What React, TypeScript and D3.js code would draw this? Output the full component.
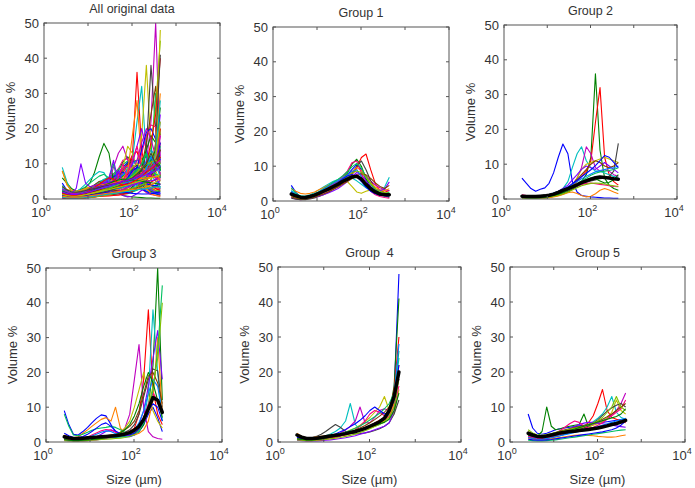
import * as d3 from 'd3';
import { useEffect, useRef } from 'react';

// particle size bins (µm)
const sizes = [2.6, 3.3, 4.2, 5.4, 6.9, 8.8, 11, 14, 18, 23, 30, 38, 49, 62, 80, 102, 130, 166, 212, 270, 345, 440];

const group1Curves = [
  [4.5, 2.5, 1.2, 0.8, 1.0, 1.5, 2.0, 2.8, 3.5, 4.3, 5.2, 6.2, 7.5, 9.0, 10.5, 9.0, 6.0, 3.5, 2.2, 1.6, 1.5, 1.8],
  [2.0, 1.6, 1.3, 1.2, 1.5, 2.0, 2.6, 3.3, 4.0, 4.8, 5.6, 6.6, 8.0, 10.5, 12.0, 10.0, 6.5, 4.0, 2.8, 2.2, 2.0, 2.2],
  [1.5, 1.0, 0.8, 0.8, 1.0, 1.3, 1.8, 2.4, 3.0, 3.6, 4.3, 5.0, 6.0, 7.5, 9.5, 12.5, 13.5, 9.0, 5.0, 3.0, 2.5, 3.0],
  [3.0, 2.0, 1.5, 1.4, 1.8, 2.4, 3.2, 4.0, 4.8, 5.6, 6.2, 6.8, 7.0, 6.6, 5.8, 4.8, 3.8, 3.0, 2.6, 2.6, 4.0, 6.8],
  [1.0, 0.6, 0.4, 0.5, 0.8, 1.2, 1.7, 2.3, 3.0, 3.8, 4.6, 5.4, 6.2, 7.0, 7.6, 8.0, 7.2, 5.8, 4.6, 3.8, 3.2, 3.0],
  [2.5, 1.5, 1.0, 1.0, 1.3, 1.8, 2.5, 3.3, 4.2, 5.0, 5.7, 6.0, 5.6, 4.2, 2.6, 2.2, 2.8, 3.2, 2.8, 2.2, 1.6, 1.2],
  [0.8, 0.5, 0.4, 0.4, 0.6, 0.9, 1.3, 1.8, 2.5, 3.3, 4.2, 5.2, 6.4, 8.0, 10.0, 11.5, 9.0, 5.8, 3.5, 2.2, 1.5, 1.0],
  [3.5, 2.8, 2.2, 2.0, 2.2, 2.6, 3.2, 3.8, 4.5, 5.2, 5.8, 6.4, 7.2, 8.4, 9.6, 8.8, 7.0, 5.2, 4.0, 3.2, 3.0, 3.5],
  [1.8, 1.2, 0.9, 0.8, 0.9, 1.1, 1.4, 1.8, 2.3, 2.9, 3.6, 4.5, 5.6, 7.0, 8.2, 7.6, 5.8, 4.2, 3.4, 3.0, 3.4, 5.5],
  [2.2, 1.4, 1.0, 0.9, 1.1, 1.5, 2.1, 2.9, 3.8, 4.8, 5.8, 7.0, 8.6, 11.0, 11.5, 8.0, 4.6, 2.8, 1.8, 1.3, 1.0, 0.8],
  [3.8, 2.2, 1.4, 1.2, 1.5, 2.0, 2.7, 3.5, 4.4, 5.3, 6.2, 7.2, 8.4, 9.8, 10.8, 9.5, 7.0, 4.8, 3.2, 2.4, 2.0, 2.6],
  [1.2, 0.8, 0.6, 0.6, 0.8, 1.1, 1.5, 2.0, 2.6, 3.3, 4.0, 4.8, 5.6, 6.4, 7.2, 7.8, 7.5, 6.5, 5.2, 4.2, 3.6, 4.5],
  [2.8, 1.8, 1.2, 1.1, 1.4, 1.9, 2.6, 3.4, 4.2, 5.0, 5.8, 6.5, 7.4, 8.5, 9.0, 7.0, 4.5, 3.0, 2.2, 1.8, 1.6, 1.5],
  [1.6, 1.1, 0.8, 0.8, 1.0, 1.4, 1.9, 2.5, 3.2, 4.0, 4.9, 5.9, 7.0, 8.0, 8.6, 8.2, 6.8, 5.0, 3.6, 2.8, 2.4, 2.2],
  [2.4, 1.7, 1.3, 1.2, 1.4, 1.8, 2.3, 2.9, 3.6, 4.4, 5.3, 6.3, 7.2, 7.6, 7.0, 5.6, 4.0, 2.8, 2.1, 1.7, 1.5, 1.4],
];
const group1Mean = [2.0, 1.5, 1.1, 1.0, 1.3, 1.7, 2.2, 2.8, 3.4, 4.1, 4.8, 5.6, 6.3, 6.9, 7.1, 6.3, 4.8, 3.5, 2.6, 2.0, 1.8, 1.8];

const group2Curves = [
  [6.0, 4.5, 3.0, 2.2, 2.8, 3.2, 4.5, 7.5, 12.0, 15.8, 13.0, 5.0, 2.0, 1.0, 0.8, 0.6, 0.5, 0.4, 0.3, 0.3, 0.2, 0.2],
  [0.5, 0.4, 0.3, 0.3, 0.3, 0.4, 0.5, 0.7, 1.0, 1.4, 2.0, 2.8, 3.8, 5.0, 7.0, 12.0, 36.0, 14.0, 6.0, 4.0, 3.0, 2.5],
  [0.6, 0.5, 0.4, 0.4, 0.5, 0.6, 0.8, 1.1, 1.5, 2.0, 2.8, 3.8, 5.0, 6.5, 8.0, 11.0, 22.0, 32.0, 12.0, 7.0, 5.0, 4.0],
  [0.8, 0.6, 0.5, 0.5, 0.6, 0.8, 1.0, 1.4, 2.0, 3.0, 5.0, 9.0, 13.0, 15.0, 11.0, 9.0, 8.0, 8.0, 7.5, 7.0, 6.5, 6.0],
  [0.5, 0.4, 0.3, 0.3, 0.4, 0.5, 0.7, 1.0, 1.4, 2.0, 2.8, 4.0, 6.0, 9.0, 15.0, 13.0, 9.0, 8.0, 8.5, 8.0, 7.0, 6.5],
  [1.0, 0.8, 0.6, 0.6, 0.7, 0.8, 1.0, 1.2, 1.5, 2.0, 2.8, 4.0, 6.0, 8.5, 10.0, 10.5, 11.0, 11.5, 12.0, 11.5, 11.0, 10.5],
  [0.7, 0.5, 0.4, 0.4, 0.5, 0.6, 0.8, 1.0, 1.3, 1.7, 2.2, 2.8, 3.5, 4.2, 4.8, 5.2, 5.5, 5.8, 6.0, 6.5, 8.0, 16.0],
  [0.3, 0.2, 0.2, 0.2, 0.2, 0.3, 0.4, 0.6, 0.9, 1.3, 1.8, 2.0, 1.6, 1.0, 0.6, 0.8, 1.5, 2.5, 3.0, 2.6, 2.0, 1.5],
  [0.9, 0.7, 0.6, 0.6, 0.7, 0.9, 1.2, 1.6, 2.2, 3.0, 4.0, 5.5, 7.0, 8.5, 9.5, 9.0, 8.5, 9.5, 10.5, 9.5, 8.5, 7.5],
  [1.2, 1.0, 0.8, 0.8, 0.9, 1.0, 1.2, 1.5, 1.8, 2.3, 2.8, 3.3, 3.8, 4.2, 4.5, 4.6, 4.4, 4.2, 4.0, 3.8, 3.6, 3.5],
  [0.4, 0.3, 0.3, 0.3, 0.4, 0.5, 0.7, 1.0, 1.4, 2.0, 2.8, 3.6, 4.4, 5.2, 6.0, 6.8, 7.4, 7.8, 8.0, 8.2, 8.5, 9.0],
  [0.6, 0.5, 0.4, 0.4, 0.5, 0.6, 0.8, 1.1, 1.6, 2.3, 3.2, 4.3, 5.6, 7.0, 8.5, 10.0, 11.0, 10.5, 9.5, 9.0, 9.5, 10.5],
  [1.0, 0.8, 0.7, 0.7, 0.8, 1.0, 1.3, 1.7, 2.2, 2.8, 3.5, 4.2, 5.0, 5.8, 6.5, 7.2, 7.8, 8.2, 8.5, 8.8, 9.0, 9.5],
  [0.3, 0.3, 0.2, 0.2, 0.3, 0.4, 0.6, 0.8, 1.1, 1.5, 2.0, 2.6, 3.2, 3.8, 4.2, 4.5, 4.6, 4.5, 4.3, 4.0, 3.8, 3.6],
  [0.8, 0.6, 0.5, 0.5, 0.6, 0.8, 1.1, 1.5, 2.0, 2.6, 3.4, 4.4, 5.4, 6.4, 7.4, 8.4, 9.6, 11.0, 12.5, 12.0, 10.5, 9.0],
  [0.5, 0.4, 0.3, 0.3, 0.4, 0.5, 0.7, 1.0, 1.4, 1.9, 2.5, 3.2, 4.0, 4.8, 5.6, 6.0, 5.8, 5.2, 4.6, 4.8, 5.5, 7.0],
];
const group2Mean = [0.8, 0.7, 0.7, 0.7, 0.8, 0.9, 1.1, 1.4, 1.9, 2.5, 3.0, 3.5, 4.1, 4.7, 5.2, 5.7, 6.1, 6.3, 6.2, 6.0, 5.8, 5.7];

const group3Curves = [
  [9.0, 5.0, 2.2, 2.0, 3.0, 4.2, 5.5, 6.8, 7.8, 7.5, 5.0, 3.0, 2.0, 1.5, 1.5, 2.0, 3.0, 5.0, 8.0, 10.0, 7.0, 3.0],
  [1.0, 0.8, 0.6, 0.6, 0.7, 0.8, 0.9, 1.0, 1.1, 1.2, 1.3, 1.4, 1.5, 1.6, 1.8, 2.2, 3.0, 5.0, 10.0, 22.0, 50.0, 12.0],
  [1.5, 1.0, 0.8, 0.8, 0.9, 1.0, 1.2, 1.4, 1.6, 1.8, 2.0, 2.2, 2.4, 2.6, 3.0, 4.0, 8.0, 18.0, 38.0, 15.0, 8.0, 5.0],
  [0.8, 0.6, 0.5, 0.5, 0.6, 0.7, 0.8, 0.9, 1.0, 1.1, 1.2, 1.3, 1.4, 1.5, 1.7, 2.0, 3.0, 6.0, 14.0, 38.0, 20.0, 6.0],
  [0.5, 0.4, 0.3, 0.3, 0.3, 0.4, 0.5, 0.6, 0.8, 1.0, 1.3, 1.8, 2.5, 4.0, 8.0, 18.0, 28.0, 10.0, 3.0, 1.5, 1.0, 0.8],
  [0.7, 0.5, 0.4, 0.4, 0.5, 0.6, 0.7, 0.8, 1.0, 1.2, 1.5, 2.0, 2.8, 4.0, 6.0, 10.0, 15.0, 20.0, 14.0, 9.0, 6.0, 4.0],
  [1.2, 0.9, 0.7, 0.7, 0.8, 0.9, 1.0, 1.1, 1.2, 1.4, 1.6, 1.9, 2.3, 2.8, 3.5, 5.0, 8.0, 13.0, 18.0, 21.0, 20.5, 10.0],
  [2.0, 1.5, 1.2, 1.5, 2.5, 3.5, 4.5, 5.5, 6.5, 7.0, 6.0, 10.0, 4.0, 2.5, 2.0, 2.0, 2.5, 3.5, 6.0, 12.0, 30.0, 8.0],
  [0.6, 0.5, 0.4, 0.4, 0.5, 0.7, 1.0, 1.5, 2.2, 3.0, 3.5, 3.0, 2.2, 1.8, 2.0, 3.0, 5.0, 9.0, 16.0, 24.0, 32.0, 18.0],
  [1.8, 1.2, 0.8, 0.8, 1.0, 1.4, 2.0, 2.6, 3.2, 3.6, 3.4, 2.8, 2.2, 2.0, 2.2, 3.0, 4.5, 7.0, 11.0, 14.0, 12.0, 9.0],
  [8.0, 4.5, 2.0, 1.8, 2.2, 2.8, 3.4, 3.8, 4.0, 4.2, 4.5, 4.2, 3.5, 2.8, 2.4, 2.6, 3.5, 5.5, 9.0, 15.0, 26.0, 45.0],
  [0.9, 0.7, 0.5, 0.5, 0.6, 0.7, 0.9, 1.1, 1.3, 1.6, 1.9, 2.3, 2.8, 3.5, 4.5, 6.0, 9.0, 14.0, 19.0, 20.0, 17.0, 11.0],
  [1.4, 1.0, 0.8, 0.8, 1.0, 1.3, 1.7, 2.2, 2.8, 3.2, 3.0, 2.4, 2.0, 2.0, 2.4, 3.5, 5.5, 9.0, 14.0, 18.0, 16.0, 8.0],
  [0.4, 0.3, 0.3, 0.3, 0.3, 0.4, 0.5, 0.6, 0.7, 0.8, 0.9, 1.0, 1.1, 1.3, 1.6, 2.2, 3.5, 6.0, 10.0, 16.0, 24.0, 40.0],
  [2.5, 1.8, 1.3, 1.3, 1.6, 2.2, 3.0, 4.0, 5.0, 5.5, 4.5, 3.2, 2.4, 2.0, 2.0, 2.5, 3.8, 6.0, 9.0, 11.0, 10.0, 6.0],
  [0.7, 0.5, 0.4, 0.4, 0.5, 0.6, 0.7, 0.8, 1.0, 1.2, 1.5, 2.0, 2.6, 3.5, 5.0, 7.5, 11.0, 16.0, 20.0, 17.0, 12.0, 7.0],
];
const group3Mean = [1.5, 1.2, 1.0, 1.0, 1.1, 1.2, 1.3, 1.4, 1.5, 1.6, 1.7, 1.8, 2.0, 2.3, 2.7, 3.4, 4.5, 6.5, 9.5, 12.8, 12.0, 8.5];

const group4Curves = [
  [1.5, 1.0, 0.8, 0.8, 0.9, 1.1, 1.3, 1.5, 1.8, 2.1, 2.4, 2.8, 3.2, 3.6, 4.0, 4.5, 5.0, 5.6, 6.5, 8.0, 14.0, 48.0],
  [2.0, 1.4, 1.0, 1.0, 1.1, 1.3, 1.5, 1.7, 1.9, 2.1, 2.4, 2.7, 3.0, 3.4, 3.8, 4.3, 4.8, 5.4, 6.2, 8.0, 16.0, 41.0],
  [1.0, 0.7, 0.5, 0.5, 0.6, 0.8, 1.0, 1.2, 1.4, 1.7, 2.0, 2.4, 2.8, 3.3, 3.9, 4.6, 5.4, 6.2, 7.0, 9.0, 15.0, 30.0],
  [1.2, 0.9, 0.8, 0.9, 1.1, 1.4, 1.8, 2.3, 3.0, 4.0, 6.0, 11.0, 5.0, 3.5, 3.5, 4.0, 4.5, 5.0, 6.0, 8.0, 12.0, 24.0],
  [0.8, 0.6, 0.5, 0.6, 0.8, 1.0, 1.3, 1.6, 2.0, 2.6, 3.4, 4.5, 6.0, 10.0, 5.5, 5.5, 7.0, 9.0, 9.5, 9.0, 11.0, 18.0],
  [1.0, 0.8, 0.7, 0.7, 0.8, 1.0, 1.2, 1.5, 1.9, 2.3, 2.8, 3.4, 4.0, 4.8, 5.8, 7.0, 8.5, 10.0, 13.0, 9.0, 8.0, 15.0],
  [1.5, 1.2, 1.0, 1.2, 1.6, 2.2, 3.0, 4.0, 5.0, 4.2, 3.0, 2.5, 2.3, 2.4, 2.6, 2.9, 3.3, 3.8, 4.5, 5.5, 8.0, 12.0],
  [2.5, 1.6, 1.2, 1.2, 1.4, 1.6, 1.8, 2.0, 2.2, 2.4, 2.6, 2.8, 3.0, 3.3, 3.6, 4.0, 4.5, 5.2, 6.0, 7.5, 11.0, 22.0],
  [0.5, 0.4, 0.3, 0.3, 0.3, 0.4, 0.5, 0.6, 0.8, 1.0, 1.2, 1.5, 1.8, 2.2, 2.6, 3.0, 3.5, 4.0, 4.5, 5.5, 9.0, 20.0],
  [0.7, 0.5, 0.4, 0.4, 0.5, 0.6, 0.8, 1.0, 1.3, 1.7, 2.2, 2.8, 3.5, 4.5, 6.0, 8.0, 9.0, 8.5, 7.5, 7.0, 10.0, 16.0],
  [1.8, 1.2, 0.9, 0.9, 1.0, 1.2, 1.4, 1.7, 2.0, 2.4, 2.8, 3.3, 3.9, 4.6, 5.4, 6.3, 7.2, 8.2, 9.5, 11.0, 14.0, 26.0],
  [1.2, 0.9, 0.7, 0.7, 0.8, 1.0, 1.2, 1.4, 1.7, 2.0, 2.4, 2.9, 3.4, 4.0, 4.7, 5.5, 6.4, 7.4, 8.5, 10.0, 13.0, 20.0],
  [2.2, 1.5, 1.1, 1.1, 1.2, 1.4, 1.6, 1.8, 2.0, 2.2, 2.5, 2.8, 3.1, 3.5, 3.9, 4.4, 5.0, 5.8, 7.0, 9.0, 13.0, 28.0],
  [0.6, 0.5, 0.4, 0.4, 0.5, 0.6, 0.7, 0.9, 1.1, 1.3, 1.6, 1.9, 2.3, 2.7, 3.2, 3.8, 4.4, 5.0, 5.8, 7.0, 10.0, 18.0],
  [1.4, 1.0, 0.8, 0.8, 0.9, 1.1, 1.4, 1.8, 2.3, 2.9, 3.6, 4.4, 5.2, 6.2, 7.5, 9.0, 10.0, 9.0, 8.0, 8.5, 12.0, 22.0],
  [0.9, 0.7, 0.6, 0.6, 0.7, 0.9, 1.1, 1.4, 1.7, 2.0, 2.4, 2.8, 3.2, 3.6, 4.0, 4.4, 4.8, 5.2, 5.6, 6.5, 9.0, 14.0],
];
const group4Mean = [2.0, 1.4, 1.0, 1.0, 1.1, 1.3, 1.5, 1.7, 1.9, 2.1, 2.4, 2.7, 3.0, 3.4, 3.9, 4.5, 5.1, 5.8, 6.8, 9.0, 13.0, 20.0];

const group5Curves = [
  [8.0, 4.0, 2.5, 2.2, 2.5, 3.0, 3.5, 3.8, 4.0, 4.2, 4.4, 4.6, 4.8, 5.0, 5.2, 5.4, 5.6, 5.8, 6.0, 6.2, 6.4, 6.5],
  [2.0, 1.8, 1.6, 3.0, 10.0, 4.5, 3.5, 3.8, 4.2, 4.5, 4.8, 5.0, 8.0, 4.5, 4.0, 4.2, 4.5, 4.8, 5.0, 5.2, 5.5, 6.0],
  [1.5, 1.2, 1.0, 1.0, 1.2, 1.5, 1.8, 2.2, 2.6, 3.0, 3.4, 3.8, 4.4, 5.5, 7.5, 11.0, 15.0, 9.0, 7.0, 6.5, 6.0, 5.5],
  [2.5, 2.0, 1.5, 1.5, 1.8, 2.1, 2.4, 2.7, 3.0, 3.3, 3.6, 4.0, 4.5, 5.0, 5.8, 6.8, 8.0, 10.0, 13.0, 8.5, 7.0, 6.5],
  [1.8, 1.4, 1.1, 1.1, 1.3, 1.6, 1.9, 2.2, 2.6, 3.0, 3.4, 3.8, 4.2, 4.6, 5.0, 5.5, 6.0, 6.8, 7.8, 9.0, 11.0, 14.0],
  [3.0, 2.2, 1.6, 1.5, 1.7, 2.0, 2.3, 2.6, 2.9, 3.2, 3.5, 3.8, 4.1, 4.4, 4.8, 5.2, 5.8, 6.8, 8.5, 12.0, 9.0, 8.0],
  [1.2, 1.0, 0.8, 0.8, 1.0, 1.2, 1.5, 1.8, 2.2, 2.6, 3.0, 3.5, 4.0, 4.6, 5.4, 6.4, 7.6, 8.8, 9.8, 10.5, 11.0, 10.0],
  [1.0, 0.8, 0.6, 0.6, 0.7, 0.9, 1.1, 1.3, 1.5, 1.7, 1.9, 2.0, 2.0, 1.9, 1.8, 1.6, 1.5, 1.4, 1.4, 1.5, 1.8, 2.0],
  [2.2, 1.7, 1.3, 1.3, 1.5, 1.8, 2.2, 2.7, 3.2, 3.8, 4.4, 5.0, 5.4, 5.6, 5.6, 5.4, 5.2, 5.0, 4.8, 4.6, 4.4, 4.2],
  [1.5, 1.2, 1.0, 1.0, 1.3, 1.8, 2.5, 3.3, 4.2, 5.2, 6.0, 5.6, 4.5, 4.0, 4.2, 4.8, 5.5, 6.5, 7.5, 8.5, 9.5, 12.0],
  [0.5, 0.4, 0.3, 0.3, 0.4, 0.5, 0.6, 0.8, 1.0, 1.2, 1.4, 1.6, 1.8, 2.0, 2.2, 2.4, 2.6, 2.8, 3.0, 3.2, 3.4, 3.5],
  [2.8, 2.1, 1.6, 1.6, 1.9, 2.3, 2.7, 3.1, 3.5, 3.8, 4.1, 4.4, 4.7, 5.0, 5.4, 5.9, 6.5, 7.2, 8.0, 9.0, 10.0, 11.0],
  [1.3, 1.0, 0.8, 0.8, 1.0, 1.2, 1.5, 1.8, 2.1, 2.4, 2.7, 3.0, 3.3, 3.6, 4.0, 4.4, 4.8, 5.2, 5.6, 6.0, 6.4, 6.8],
  [3.5, 2.6, 2.0, 1.9, 2.1, 2.4, 2.7, 3.0, 3.3, 3.6, 3.9, 4.2, 4.5, 4.9, 5.4, 6.0, 7.0, 8.5, 10.0, 13.0, 10.0, 9.0],
  [0.8, 0.6, 0.5, 0.5, 0.6, 0.7, 0.9, 1.1, 1.3, 1.5, 1.7, 1.9, 2.1, 2.3, 2.5, 2.7, 2.9, 3.2, 3.5, 4.0, 4.8, 6.0],
  [2.0, 1.6, 1.3, 1.3, 1.5, 1.8, 2.1, 2.5, 2.9, 3.3, 3.7, 4.1, 4.5, 4.9, 5.3, 5.7, 6.1, 6.5, 6.9, 7.3, 8.0, 9.5],
];
const group5Mean = [2.5, 2.0, 1.6, 1.5, 1.7, 2.0, 2.3, 2.6, 2.8, 3.0, 3.1, 3.3, 3.4, 3.6, 3.8, 4.0, 4.3, 4.6, 5.0, 5.3, 5.7, 6.2];

const yTicks = [0, 10, 20, 30, 40, 50];
const xTicks = [1, 10, 100, 1000, 10000];
const xLabelExps = [0, 2, 4];

const lineColors = [
  '#0000ff', '#008000', '#ff0000', '#00bfbf', '#bf00bf', '#bfbf00', '#404040',
  '#ff8000', '#8000ff', '#ff0080', '#00c060', '#804000', '#0080ff', '#80c000',
];

const font = '"Liberation Sans", Arial, sans-serif';
const textColor = '#333';
const frameColor = '#555';

type Panel = {
  title: string;
  curves: number[][];
  mean: number[] | null;
  box: { x0: number; x1: number; y0: number; y1: number };
  showXLabel: boolean;
};

const allCurves = [...group1Curves, ...group2Curves, ...group3Curves, ...group4Curves, ...group5Curves];

const panels: Panel[] = [
  { title: 'All original data', curves: allCurves, mean: null, box: { x0: 44, x1: 220, y0: 23, y1: 199 }, showXLabel: false },
  { title: 'Group 1', curves: group1Curves, mean: group1Mean, box: { x0: 273, x1: 449, y0: 27, y1: 201 }, showXLabel: false },
  { title: 'Group 2', curves: group2Curves, mean: group2Mean, box: { x0: 504, x1: 677, y0: 25, y1: 199 }, showXLabel: false },
  { title: 'Group 3', curves: group3Curves, mean: group3Mean, box: { x0: 46, x1: 222, y0: 268, y1: 442 }, showXLabel: true },
  { title: 'Group  4', curves: group4Curves, mean: group4Mean, box: { x0: 278, x1: 461, y0: 267, y1: 442 }, showXLabel: true },
  { title: 'Group 5', curves: group5Curves, mean: group5Mean, box: { x0: 510, x1: 685, y0: 267, y1: 442 }, showXLabel: true },
];

const width = 695;
const height = 488;

export default function App() {
  const ref = useRef<SVGSVGElement>(null);

  useEffect(() => {
    const svg = d3.select(ref.current);
    svg.selectAll('*').remove();

    svg.append('rect').attr('width', width).attr('height', height).attr('fill', '#fff');

    panels.forEach((p, pi) => {
      const { x0, x1, y0, y1 } = p.box;
      const x = d3.scaleLog().domain([1, 1e4]).range([x0, x1]);
      const y = d3.scaleLinear().domain([0, 50]).range([y1, y0]);
      const g = svg.append('g');

      const clipId = `clip-${pi}`;
      g.append('clipPath')
        .attr('id', clipId)
        .append('rect')
        .attr('x', x0)
        .attr('y', y0)
        .attr('width', x1 - x0)
        .attr('height', y1 - y0);

      const line = d3
        .line<number>()
        .x((_d, i) => x(sizes[i]))
        .y((d) => y(d));

      const plot = g.append('g').attr('clip-path', `url(#${clipId})`);

      plot
        .selectAll('.curve')
        .data(p.curves)
        .enter()
        .append('path')
        .attr('class', 'curve')
        .attr('d', (d) => line(d))
        .attr('fill', 'none')
        .attr('stroke', (_d, i) => lineColors[i % lineColors.length])
        .attr('stroke-width', 1.1)
        .attr('stroke-linejoin', 'round');

      if (p.mean) {
        plot
          .append('path')
          .attr('d', line(p.mean))
          .attr('fill', 'none')
          .attr('stroke', '#000')
          .attr('stroke-width', 3.5)
          .attr('stroke-linejoin', 'round')
          .attr('stroke-linecap', 'round');
      }

      // frame with inward ticks on all sides
      g.append('rect')
        .attr('x', x0)
        .attr('y', y0)
        .attr('width', x1 - x0)
        .attr('height', y1 - y0)
        .attr('fill', 'none')
        .attr('stroke', frameColor)
        .attr('stroke-width', 1);

      yTicks.forEach((t) => {
        const ty = y(t);
        g.append('line').attr('x1', x0).attr('x2', x0 + 3).attr('y1', ty).attr('y2', ty).attr('stroke', frameColor);
        g.append('line').attr('x1', x1).attr('x2', x1 - 3).attr('y1', ty).attr('y2', ty).attr('stroke', frameColor);
        g.append('text')
          .attr('x', x0 - 5)
          .attr('y', ty + 4.5)
          .attr('text-anchor', 'end')
          .attr('font-family', font)
          .attr('font-size', 13)
          .attr('fill', textColor)
          .text(t);
      });

      xTicks.forEach((t) => {
        const tx = x(t);
        g.append('line').attr('x1', tx).attr('x2', tx).attr('y1', y1).attr('y2', y1 - 3).attr('stroke', frameColor);
        g.append('line').attr('x1', tx).attr('x2', tx).attr('y1', y0).attr('y2', y0 + 3).attr('stroke', frameColor);
      });

      xLabelExps.forEach((e) => {
        const t = g
          .append('text')
          .attr('x', x(Math.pow(10, e)) - 3)
          .attr('y', y1 + 18)
          .attr('text-anchor', 'middle')
          .attr('font-family', font)
          .attr('font-size', 13)
          .attr('fill', textColor);
        t.append('tspan').text('10');
        t.append('tspan').attr('dy', -6).attr('font-size', 9).text(e);
      });

      g.append('text')
        .attr('x', (x0 + x1) / 2)
        .attr('y', y0 - 10)
        .attr('text-anchor', 'middle')
        .attr('font-family', font)
        .attr('font-size', 12.5)
        .attr('fill', textColor)
        .style('white-space', 'pre')
        .text(p.title);

      g.append('text')
        .attr('transform', `translate(${x0 - 29},${(y0 + y1) / 2}) rotate(-90)`)
        .attr('text-anchor', 'middle')
        .attr('font-family', font)
        .attr('font-size', 13)
        .attr('fill', textColor)
        .text('Volume %');

      if (p.showXLabel) {
        g.append('text')
          .attr('x', (x0 + x1) / 2)
          .attr('y', y1 + 42)
          .attr('text-anchor', 'middle')
          .attr('font-family', font)
          .attr('font-size', 13)
          .attr('fill', textColor)
          .text('Size (µm)');
      }
    });
  }, []);

  return <svg ref={ref} width={width} height={height} style={{ position: 'absolute', left: 0, top: 0 }} />;
}
